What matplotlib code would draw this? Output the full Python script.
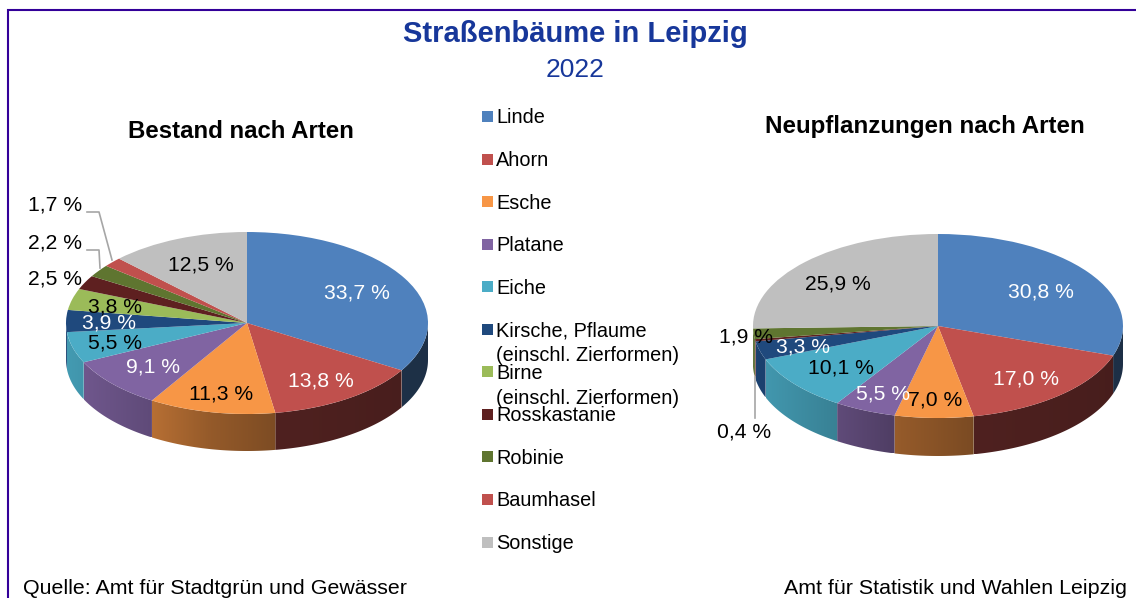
#!/usr/bin/env python3
# -*- coding: utf-8 -*-
"""
Strassenbaeume in Leipzig 2022, two flat pies with a fake 3D rim
"""
import numpy as np
import matplotlib
matplotlib.use('Agg')
import matplotlib.pyplot as plt
from matplotlib.colors import to_rgb
from matplotlib.patches import Rectangle, Polygon

plt.rcParams['font.family'] = ['Liberation Sans', 'DejaVu Sans']

W, H = 1136, 598

# data
arten = ['Linde', 'Ahorn', 'Esche', 'Platane', 'Eiche',
         'Kirsche, Pflaume\n(einschl. Zierformen)',
         'Birne\n(einschl. Zierformen)',
         'Rosskastanie', 'Robinie', 'Baumhasel', 'Sonstige']
bestand = [33.7, 13.8, 11.3, 9.1, 5.5, 3.9, 3.8, 2.5, 2.2, 1.7, 12.5]
neupflanzungen = [30.8, 17.0, 7.0, 5.5, 10.1, 3.3, 0, 0.4, 1.9, 0, 25.9]

farben = ['#4F81BD', '#C0504D', '#F79646', '#8064A2', '#4BACC6', '#1F497D',
          '#9BBB59', '#5E2020', '#5F7530', '#C0504D', '#BFBFBF']

# label centres in pixels, same order as the values (None = no label)
pos_bestand = [(357, 293), (321, 381), (221, 394), (153, 367), (115, 343), (109, 323),
               (115, 307), (55, 279), (55, 243), (55, 205), (201, 265)]
pos_neu = [(1041, 292), (1026, 379), (935, 400), (883, 394), (841, 368), (803, 347),
           None, (744, 432), (746, 337), None, (838, 284)]
col_bestand = ['w', 'w', 'k', 'w', 'k', 'w', 'k', 'k', 'k', 'k', 'k']
col_neu = ['w', 'w', 'k', 'w', 'k', 'w', 'k', 'k', 'k', 'k', 'k']


def px(x, y):
    return x / W, 1 - y / H


def rim_shade(x):
    # how dark the side of the pie gets, left to right
    return np.interp(x, [-1, -0.55, -0.2, 0.18, 0.22, 1], [0.9, 0.75, 0.6, 0.5, 0.41, 0.37])


def pie3d(fig, values, cx, cy, rx, ry, depth):
    ax = fig.add_axes([(cx - rx) / W, 1 - (cy + ry + depth) / H, 2 * rx / W, (2 * ry + depth) / H])
    edges = np.concatenate([[0], np.cumsum(values)]) / np.sum(values) * 2 * np.pi
    dz = depth / ry
    # side first, only the front half is visible: gradient image clipped to the rim
    for i in range(len(values)):
        t0 = max(edges[i], np.pi / 2)
        t1 = min(edges[i + 1], 3 * np.pi / 2)
        if t1 <= t0:
            continue
        tt = np.linspace(t0, t1, 60)
        xs = np.sin(tt)
        ys = np.cos(tt)
        poly = np.column_stack([np.r_[xs, xs[::-1]], np.r_[ys, ys[::-1] - dz]])
        x0, x1 = xs.min(), xs.max()
        xg = np.linspace(x0, x1, 128)
        shade = rim_shade(xg)
        if x0 > 0.1:
            # wedges on the right are flat dark
            shade = np.minimum(shade, 0.41)
        img = np.array(to_rgb(farben[i]))[None, None, :] * shade[None, :, None]
        im = ax.imshow(img, extent=(x0, x1, poly[:, 1].min(), poly[:, 1].max()), aspect='auto',
                       interpolation='bilinear', zorder=1)
        im.set_clip_path(Polygon(poly, closed=True, transform=ax.transData))
    ax.pie(values, colors=farben, startangle=90, counterclock=False, radius=1,
           wedgeprops={'linewidth': 0, 'zorder': 2})
    ax.set_aspect('auto')
    ax.set_xlim(-1, 1)
    ax.set_ylim(-1 - dz, 1)
    ax.axis('off')
    return ax


def value_labels(fig, values, pos, cols):
    for v, p, c in zip(values, pos, cols):
        if p is None:
            continue
        x, y = px(*p)
        fig.text(x, y, ('%.1f %%' % v).replace('.', ','), color=c, fontsize=15.2,
                 ha='center', va='center', zorder=5)


fig = plt.figure(figsize=(W / 100, H / 100), dpi=100)

# frame, open at the bottom
rahmen = '#330099'
fig.add_artist(plt.Line2D([8 / W, 8 / W, 1], [0, 1 - 10 / H, 1 - 10 / H], color=rahmen, lw=1.5,
                          solid_joinstyle='miter'))

x, y = px(575, 34)
fig.text(x, y, 'Straßenbäume in Leipzig', color='#17379A', fontsize=21, fontweight='bold',
         ha='center', va='center')
x, y = px(575, 70)
fig.text(x, y, '2022', color='#17379A', fontsize=19, ha='center', va='center')
x, y = px(241, 131)
fig.text(x, y, 'Bestand nach Arten', fontsize=17.3, fontweight='bold', ha='center', va='center')
x, y = px(925, 126)
fig.text(x, y, 'Neupflanzungen nach Arten', fontsize=17.4, fontweight='bold', ha='center', va='center')

pie3d(fig, bestand, 247, 323, 181, 91, 37)
pie3d(fig, neupflanzungen, 938, 326, 185, 92, 38)

# leader lines
grau = '#A6A6A6'
for xs, ys in [([87, 99, 112], [212, 212, 260]),
               ([87, 99, 100], [250, 250, 268]),
               ([755, 755], [377, 418])]:
    fig.add_artist(plt.Line2D(np.array(xs) / W, 1 - np.array(ys) / H, color=grau, lw=1.2, zorder=4))

value_labels(fig, bestand, pos_bestand, col_bestand)
value_labels(fig, neupflanzungen, pos_neu, col_neu)

# legend by hand, the two line entries overlap the regular spacing
for i, name in enumerate(arten):
    yc = 116.5 + i * 42.55
    fig.add_artist(Rectangle(px(482, yc + 5.5), 11 / W, 11 / H, transform=fig.transFigure,
                             facecolor=farben[i], edgecolor='none'))
    x, y = px(496, yc - 8)
    fig.text(x, y, name, fontsize=14.35, ha='left', va='top', linespacing=1.38)

x, y = px(23, 589)
fig.text(x, y, 'Quelle: Amt für Stadtgrün und Gewässer', fontsize=15.4, ha='left', va='center')
x, y = px(1127, 589)
fig.text(x, y, 'Amt für Statistik und Wahlen Leipzig', fontsize=15.4, ha='right', va='center')

fig.savefig('out.png', dpi=100)
